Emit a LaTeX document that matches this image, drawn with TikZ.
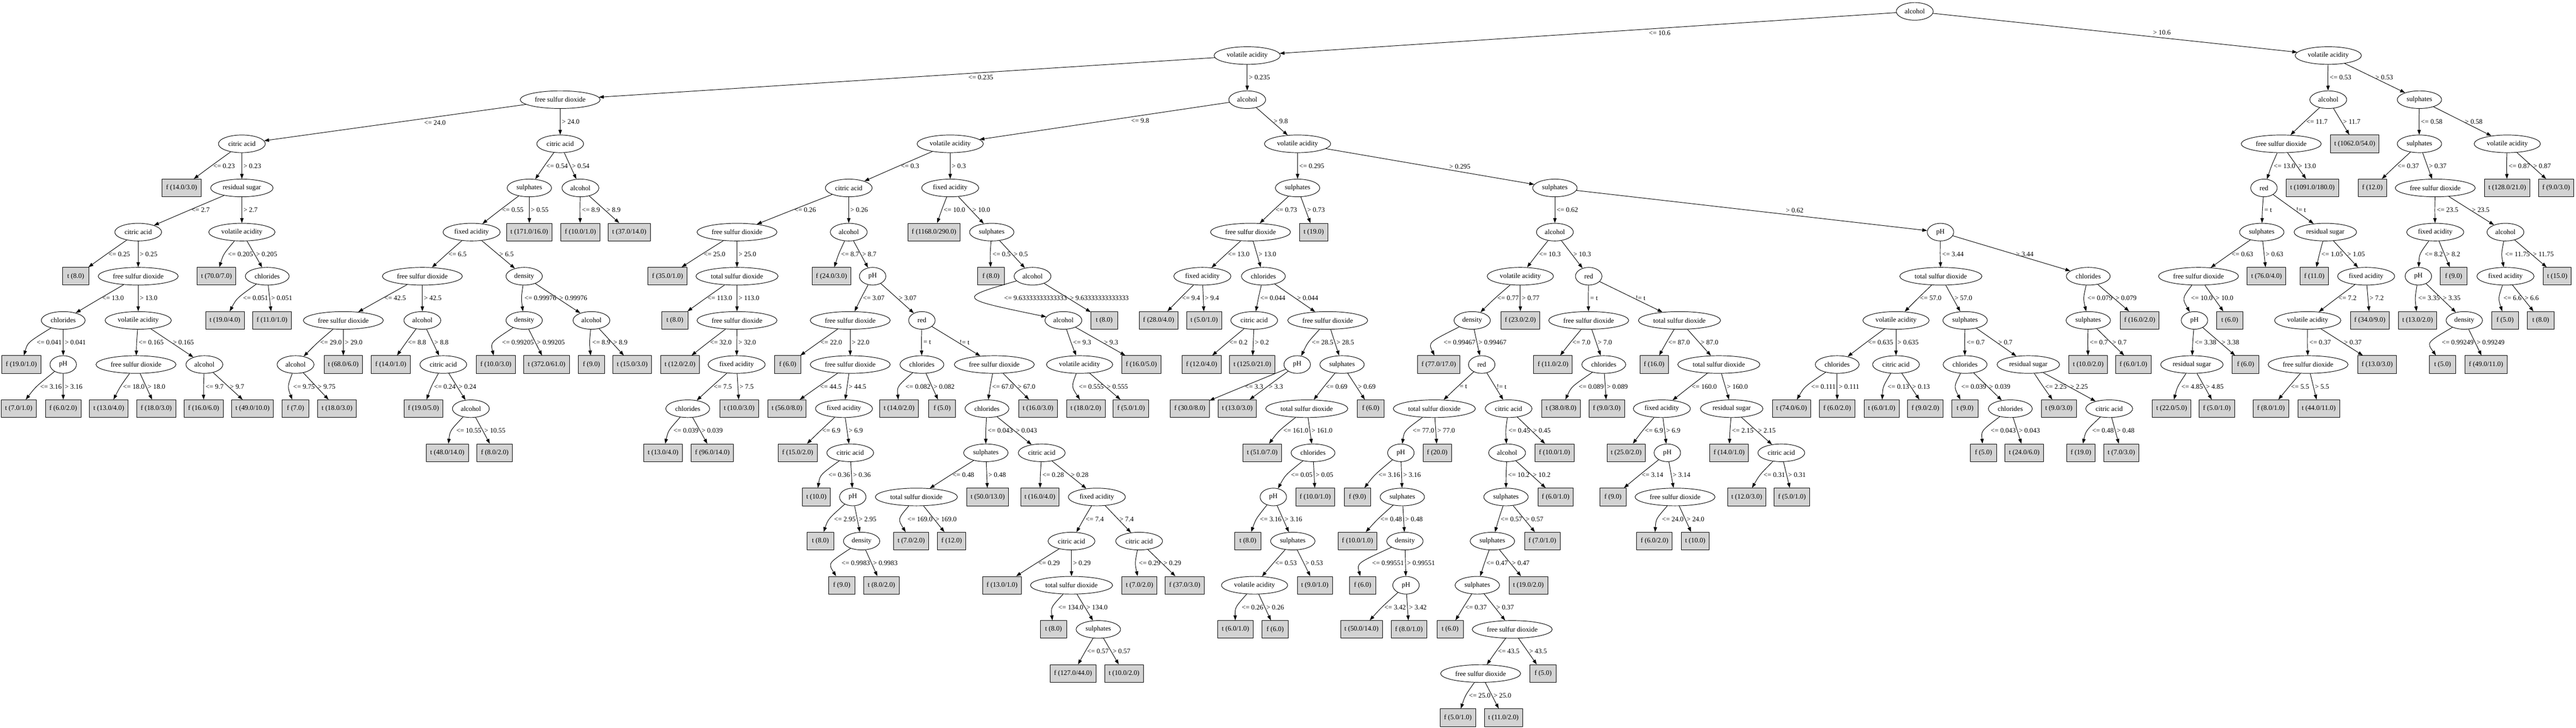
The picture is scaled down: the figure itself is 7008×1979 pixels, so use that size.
\documentclass[tikz,border=0pt]{standalone}
\usepackage{fontspec}
\setmainfont{Liberation Serif}
\usepackage{xcolor}
\definecolor{grisclaro}{RGB}{211, 211, 211}
\usepackage{tikz}
\usetikzlibrary{shapes.geometric, arrows.meta, calc}

\begin{document}
\begin{tikzpicture}[x=0.75pt, y=-0.75pt,
    testnode/.style={ellipse, draw, line width=1pt, inner xsep=6pt, inner ysep=2pt,
        minimum width=54pt, minimum height=36pt, font=\fontsize{14}{16}\selectfont},
    leafnode/.style={rectangle, draw, line width=1pt, fill=grisclaro, inner xsep=8pt, inner ysep=2pt,
        minimum width=54pt, minimum height=36pt, font=\fontsize{14}{16}\selectfont},
    arista/.style={line width=1pt, -{Triangle[length=10pt, width=7pt]}},
    etiqueta/.style={inner sep=1pt, font=\fontsize{14}{16}\selectfont}]
    \useasboundingbox (0,0) rectangle (7008,1979);
    % Nivel 0: raiz
    \node[testnode] (r) at (5209,31) {alcohol};
    % Nivel 1
    \node[testnode] (r0) at (3393,151) {volatile acidity};
    \node[testnode] (r1) at (6334,151) {volatile acidity};
    % Nivel 2
    \node[testnode] (r00) at (1524,271) {free sulfur dioxide};
    \node[testnode] (r01) at (3393,271) {alcohol};
    \node[testnode] (r10) at (6334,271) {alcohol};
    \node[testnode] (r11) at (6582,271) {sulphates};
    % Nivel 3
    \node[testnode] (r000) at (658,391) {citric acid};
    \node[testnode] (r001) at (1524,391) {citric acid};
    \node[testnode] (r010) at (2585,391) {volatile acidity};
    \node[testnode] (r011) at (3530,391) {volatile acidity};
    \node[testnode] (r100) at (6206,391) {free sulfur dioxide};
    \node[leafnode] (r101) at (6406,391) {t (1062.0/54.0)};
    \node[testnode] (r110) at (6582,391) {sulphates};
    \node[testnode] (r111) at (6821,391) {volatile acidity};
    % Nivel 4
    \node[leafnode] (r0000) at (494,511) {f (14.0/3.0)};
    \node[testnode] (r0001) at (658,511) {residual sugar};
    \node[testnode] (r0010) at (1440,511) {sulphates};
    \node[testnode] (r0011) at (1579,511) {alcohol};
    \node[testnode] (r0100) at (2309,511) {citric acid};
    \node[testnode] (r0101) at (2585,511) {fixed acidity};
    \node[testnode] (r0110) at (3530,511) {sulphates};
    \node[testnode] (r0111) at (4230,511) {sulphates};
    \node[testnode] (r1000) at (6159,511) {red};
    \node[leafnode] (r1001) at (6291,511) {t (1091.0/180.0)};
    \node[leafnode] (r1100) at (6454,511) {f (12.0)};
    \node[testnode] (r1101) at (6625,511) {free sulfur dioxide};
    \node[leafnode] (r1110) at (6821,511) {t (128.0/21.0)};
    \node[leafnode] (r1111) at (6954,511) {f (9.0/3.0)};
    % Nivel 5
    \node[testnode] (r00010) at (376,631) {citric acid};
    \node[testnode] (r00011) at (658,631) {volatile acidity};
    \node[testnode] (r00100) at (1283,631) {fixed acidity};
    \node[leafnode] (r00101) at (1440,631) {t (171.0/16.0)};
    \node[leafnode] (r00110) at (1579,631) {f (10.0/1.0)};
    \node[leafnode] (r00111) at (1712,631) {t (37.0/14.0)};
    \node[testnode] (r01000) at (2005,631) {free sulfur dioxide};
    \node[testnode] (r01001) at (2309,631) {alcohol};
    \node[leafnode] (r01010) at (2541,631) {f (1168.0/290.0)};
    \node[testnode] (r01011) at (2698,631) {sulphates};
    \node[testnode] (r01100) at (3402,631) {free sulfur dioxide};
    \node[leafnode] (r01101) at (3574,631) {t (19.0)};
    \node[testnode] (r01110) at (4230,631) {alcohol};
    \node[testnode] (r01111) at (5279,631) {pH};
    \node[testnode] (r10000) at (6153,631) {sulphates};
    \node[testnode] (r10001) at (6326,631) {residual sugar};
    \node[testnode] (r11010) at (6625,631) {fixed acidity};
    \node[testnode] (r11011) at (6816,631) {alcohol};
    % Nivel 6
    \node[leafnode] (r000100) at (206,751) {t (8.0)};
    \node[testnode] (r000101) at (376,751) {free sulfur dioxide};
    \node[leafnode] (r000110) at (589,751) {t (70.0/7.0)};
    \node[testnode] (r000111) at (727,751) {chlorides};
    \node[testnode] (r001000) at (1149,751) {free sulfur dioxide};
    \node[testnode] (r001001) at (1426,751) {density};
    \node[leafnode] (r010000) at (1816,751) {f (35.0/1.0)};
    \node[testnode] (r010001) at (2005,751) {total sulfur dioxide};
    \node[leafnode] (r010010) at (2262,751) {f (24.0/3.0)};
    \node[testnode] (r010011) at (2374,751) {pH};
    \node[leafnode] (r010110) at (2696,751) {f (8.0)};
    \node[testnode] (r010111) at (2809,751) {alcohol};
    \node[testnode] (r011000) at (3271,751) {fixed acidity};
    \node[testnode] (r011001) at (3437,751) {chlorides};
    \node[testnode] (r011100) at (4136,751) {volatile acidity};
    \node[testnode] (r011101) at (4322,751) {red};
    \node[testnode] (r011110) at (5280,751) {total sulfur dioxide};
    \node[testnode] (r011111) at (5681,751) {chlorides};
    \node[testnode] (r100000) at (5981,751) {free sulfur dioxide};
    \node[leafnode] (r100001) at (6166,751) {t (76.0/4.0)};
    \node[leafnode] (r100010) at (6296,751) {f (11.0)};
    \node[testnode] (r100011) at (6437,751) {fixed acidity};
    \node[testnode] (r110100) at (6579,751) {pH};
    \node[leafnode] (r110101) at (6675,751) {f (9.0)};
    \node[testnode] (r110110) at (6816,751) {fixed acidity};
    \node[leafnode] (r110111) at (6957,751) {t (15.0)};
    % Nivel 7
    \node[testnode] (r0001010) at (172,871) {chlorides};
    \node[testnode] (r0001011) at (376,871) {volatile acidity};
    \node[leafnode] (r0001110) at (612,871) {t (19.0/4.0)};
    \node[leafnode] (r0001111) at (740,871) {f (11.0/1.0)};
    \node[testnode] (r0010000) at (934,871) {free sulfur dioxide};
    \node[testnode] (r0010001) at (1149,871) {alcohol};
    \node[testnode] (r0010010) at (1426,871) {density};
    \node[testnode] (r0010011) at (1609,871) {alcohol};
    \node[leafnode] (r0100010) at (1836,871) {t (8.0)};
    \node[testnode] (r0100011) at (2005,871) {free sulfur dioxide};
    \node[testnode] (r0100110) at (2313,871) {free sulfur dioxide};
    \node[testnode] (r0100111) at (2508,871) {red};
    \node[testnode] (r0101110) at (2893,871) {alcohol};
    \node[leafnode] (r0101111) at (3004,871) {t (8.0)};
    \node[leafnode] (r0110000) at (3152,871) {f (28.0/4.0)};
    \node[leafnode] (r0110001) at (3276,871) {t (5.0/1.0)};
    \node[testnode] (r0110010) at (3412,871) {citric acid};
    \node[testnode] (r0110011) at (3612,871) {free sulfur dioxide};
    \node[testnode] (r0111000) at (4005,871) {density};
    \node[leafnode] (r0111001) at (4136,871) {f (23.0/2.0)};
    \node[testnode] (r0111010) at (4322,871) {free sulfur dioxide};
    \node[testnode] (r0111011) at (4569,871) {total sulfur dioxide};
    \node[testnode] (r0111100) at (5158,871) {volatile acidity};
    \node[testnode] (r0111101) at (5346,871) {sulphates};
    \node[testnode] (r0111110) at (5681,871) {sulphates};
    \node[leafnode] (r0111111) at (5821,871) {f (16.0/2.0)};
    \node[testnode] (r1000000) at (5970,871) {pH};
    \node[leafnode] (r1000001) at (6066,871) {t (6.0)};
    \node[testnode] (r1000110) at (6278,871) {volatile acidity};
    \node[leafnode] (r1000111) at (6447,871) {f (34.0/9.0)};
    \node[leafnode] (r1101000) at (6577,871) {t (13.0/2.0)};
    \node[testnode] (r1101001) at (6704,871) {density};
    \node[leafnode] (r1101100) at (6815,871) {f (5.0)};
    \node[leafnode] (r1101101) at (6912,871) {t (8.0)};
    % Nivel 8
    \node[leafnode] (r00010100) at (58,991) {f (19.0/1.0)};
    \node[testnode] (r00010101) at (172,991) {pH};
    \node[testnode] (r00010110) at (370,991) {free sulfur dioxide};
    \node[testnode] (r00010111) at (556,991) {alcohol};
    \node[testnode] (r00100000) at (804,991) {alcohol};
    \node[leafnode] (r00100001) at (934,991) {t (68.0/6.0)};
    \node[leafnode] (r00100010) at (1063,991) {f (14.0/1.0)};
    \node[testnode] (r00100011) at (1206,991) {citric acid};
    \node[leafnode] (r00100100) at (1349,991) {f (10.0/3.0)};
    \node[leafnode] (r00100101) at (1487,991) {t (372.0/61.0)};
    \node[leafnode] (r00100110) at (1609,991) {f (9.0)};
    \node[leafnode] (r00100111) at (1720,991) {t (15.0/3.0)};
    \node[leafnode] (r01000110) at (1850,991) {t (12.0/2.0)};
    \node[testnode] (r01000111) at (2004,991) {fixed acidity};
    \node[leafnode] (r01001100) at (2143,991) {f (6.0)};
    \node[testnode] (r01001101) at (2313,991) {free sulfur dioxide};
    \node[testnode] (r01001110) at (2508,991) {chlorides};
    \node[testnode] (r01001111) at (2705,991) {free sulfur dioxide};
    \node[testnode] (r01011100) at (2937,991) {volatile acidity};
    \node[leafnode] (r01011101) at (3105,991) {f (16.0/5.0)};
    \node[leafnode] (r01100100) at (3269,991) {f (12.0/4.0)};
    \node[leafnode] (r01100101) at (3407,991) {t (125.0/21.0)};
    \node[testnode] (r01100110) at (3529,991) {pH};
    \node[testnode] (r01100111) at (3651,991) {sulphates};
    \node[leafnode] (r01110000) at (3914,991) {f (77.0/17.0)};
    \node[testnode] (r01110001) at (4031,991) {red};
    \node[leafnode] (r01110100) at (4225,991) {f (11.0/2.0)};
    \node[testnode] (r01110101) at (4363,991) {chlorides};
    \node[leafnode] (r01110110) at (4500,991) {f (16.0)};
    \node[testnode] (r01110111) at (4676,991) {total sulfur dioxide};
    \node[testnode] (r01111000) at (4998,991) {chlorides};
    \node[testnode] (r01111001) at (5158,991) {citric acid};
    \node[testnode] (r01111010) at (5346,991) {chlorides};
    \node[testnode] (r01111011) at (5518,991) {residual sugar};
    \node[leafnode] (r01111100) at (5681,991) {t (10.0/2.0)};
    \node[leafnode] (r01111101) at (5804,991) {f (6.0/1.0)};
    \node[testnode] (r10000000) at (5963,991) {residual sugar};
    \node[leafnode] (r10000001) at (6109,991) {f (6.0)};
    \node[testnode] (r10001100) at (6279,991) {free sulfur dioxide};
    \node[leafnode] (r10001101) at (6467,991) {f (13.0/3.0)};
    \node[leafnode] (r11010010) at (6645,991) {t (5.0)};
    \node[leafnode] (r11010011) at (6763,991) {f (49.0/11.0)};
    % Nivel 9
    \node[leafnode] (r000101010) at (51,1111) {t (7.0/1.0)};
    \node[leafnode] (r000101011) at (172,1111) {f (6.0/2.0)};
    \node[leafnode] (r000101100) at (296,1111) {t (13.0/4.0)};
    \node[leafnode] (r000101101) at (425,1111) {f (18.0/3.0)};
    \node[leafnode] (r000101110) at (554,1111) {f (16.0/6.0)};
    \node[leafnode] (r000101111) at (687,1111) {t (49.0/10.0)};
    \node[leafnode] (r001000000) at (804,1111) {f (7.0)};
    \node[leafnode] (r001000001) at (917,1111) {t (18.0/3.0)};
    \node[leafnode] (r001000110) at (1152,1111) {f (19.0/5.0)};
    \node[testnode] (r001000111) at (1281,1111) {alcohol};
    \node[testnode] (r010001110) at (1871,1111) {chlorides};
    \node[leafnode] (r010001111) at (2011,1111) {t (10.0/3.0)};
    \node[leafnode] (r010011010) at (2141,1111) {t (56.0/8.0)};
    \node[testnode] (r010011011) at (2296,1111) {fixed acidity};
    \node[leafnode] (r010011100) at (2446,1111) {t (14.0/2.0)};
    \node[leafnode] (r010011101) at (2563,1111) {f (5.0)};
    \node[testnode] (r010011110) at (2685,1111) {chlorides};
    \node[leafnode] (r010011111) at (2824,1111) {t (16.0/3.0)};
    \node[leafnode] (r010111000) at (2954,1111) {t (18.0/2.0)};
    \node[leafnode] (r010111001) at (3077,1111) {f (5.0/1.0)};
    \node[leafnode] (r011001100) at (3237,1111) {f (30.0/8.0)};
    \node[leafnode] (r011001101) at (3366,1111) {t (13.0/3.0)};
    \node[testnode] (r011001110) at (3555,1111) {total sulfur dioxide};
    \node[leafnode] (r011001111) at (3729,1111) {f (6.0)};
    \node[testnode] (r011100010) at (3902,1111) {total sulfur dioxide};
    \node[testnode] (r011100011) at (4104,1111) {citric acid};
    \node[leafnode] (r011101010) at (4247,1111) {t (38.0/8.0)};
    \node[leafnode] (r011101011) at (4371,1111) {f (9.0/3.0)};
    \node[testnode] (r011101110) at (4521,1111) {fixed acidity};
    \node[testnode] (r011101111) at (4711,1111) {residual sugar};
    \node[leafnode] (r011110000) at (4874,1111) {t (74.0/6.0)};
    \node[leafnode] (r011110001) at (4998,1111) {f (6.0/2.0)};
    \node[leafnode] (r011110010) at (5119,1111) {t (6.0/1.0)};
    \node[leafnode] (r011110011) at (5238,1111) {f (9.0/2.0)};
    \node[leafnode] (r011110100) at (5346,1111) {t (9.0)};
    \node[testnode] (r011110101) at (5469,1111) {chlorides};
    \node[leafnode] (r011110110) at (5601,1111) {t (9.0/3.0)};
    \node[testnode] (r011110111) at (5738,1111) {citric acid};
    \node[leafnode] (r100000000) at (5908,1111) {t (22.0/5.0)};
    \node[leafnode] (r100000001) at (6031,1111) {f (5.0/1.0)};
    \node[leafnode] (r100011000) at (6178,1111) {f (8.0/1.0)};
    \node[leafnode] (r100011001) at (6308,1111) {t (44.0/11.0)};
    % Nivel 10
    \node[leafnode] (r0010001110) at (1217,1231) {t (48.0/14.0)};
    \node[leafnode] (r0010001111) at (1346,1231) {f (8.0/2.0)};
    \node[leafnode] (r0100011100) at (1804,1231) {t (13.0/4.0)};
    \node[leafnode] (r0100011101) at (1938,1231) {f (96.0/14.0)};
    \node[leafnode] (r0100110110) at (2170,1231) {f (15.0/2.0)};
    \node[testnode] (r0100110111) at (2313,1231) {citric acid};
    \node[testnode] (r0100111100) at (2682,1231) {sulphates};
    \node[testnode] (r0100111101) at (2834,1231) {citric acid};
    \node[leafnode] (r0110011100) at (3434,1231) {t (51.0/7.0)};
    \node[testnode] (r0110011101) at (3572,1231) {chlorides};
    \node[testnode] (r0111000100) at (3811,1231) {pH};
    \node[leafnode] (r0111000101) at (3910,1231) {f (20.0)};
    \node[testnode] (r0111000110) at (4100,1231) {alcohol};
    \node[leafnode] (r0111000111) at (4229,1231) {f (10.0/1.0)};
    \node[leafnode] (r0111011100) at (4424,1231) {t (25.0/2.0)};
    \node[testnode] (r0111011101) at (4536,1231) {pH};
    \node[leafnode] (r0111011110) at (4704,1231) {f (14.0/1.0)};
    \node[testnode] (r0111011111) at (4846,1231) {citric acid};
    \node[leafnode] (r0111101010) at (5396,1231) {f (5.0)};
    \node[leafnode] (r0111101011) at (5507,1231) {t (24.0/6.0)};
    \node[leafnode] (r0111101110) at (5661,1231) {f (19.0)};
    \node[leafnode] (r0111101111) at (5771,1231) {t (7.0/3.0)};
    % Nivel 11
    \node[leafnode] (r01001101110) at (2221,1351) {t (10.0)};
    \node[testnode] (r01001101111) at (2320,1351) {pH};
    \node[testnode] (r01001111000) at (2493,1351) {total sulfur dioxide};
    \node[leafnode] (r01001111001) at (2687,1351) {t (50.0/13.0)};
    \node[leafnode] (r01001111010) at (2829,1351) {t (16.0/4.0)};
    \node[testnode] (r01001111011) at (2984,1351) {fixed acidity};
    \node[testnode] (r01100111010) at (3464,1351) {pH};
    \node[leafnode] (r01100111011) at (3578,1351) {f (10.0/1.0)};
    \node[leafnode] (r01110001000) at (3693,1351) {f (9.0)};
    \node[testnode] (r01110001001) at (3815,1351) {sulphates};
    \node[testnode] (r01110001100) at (4097,1351) {sulphates};
    \node[leafnode] (r01110001101) at (4232,1351) {f (6.0/1.0)};
    \node[leafnode] (r01110111010) at (4388,1351) {f (9.0)};
    \node[testnode] (r01110111011) at (4557,1351) {free sulfur dioxide};
    \node[leafnode] (r01110111110) at (4752,1351) {t (12.0/3.0)};
    \node[leafnode] (r01110111111) at (4875,1351) {f (5.0/1.0)};
    % Nivel 12
    \node[leafnode] (r010011011110) at (2232,1471) {t (8.0)};
    \node[testnode] (r010011011111) at (2344,1471) {density};
    \node[leafnode] (r010011110000) at (2479,1471) {t (7.0/2.0)};
    \node[leafnode] (r010011110001) at (2589,1471) {f (12.0)};
    \node[testnode] (r010011110110) at (2915,1471) {citric acid};
    \node[testnode] (r010011110111) at (3099,1471) {citric acid};
    \node[leafnode] (r011001110100) at (3395,1471) {t (8.0)};
    \node[testnode] (r011001110101) at (3517,1471) {sulphates};
    \node[leafnode] (r011100010010) at (3693,1471) {f (10.0/1.0)};
    \node[testnode] (r011100010011) at (3822,1471) {density};
    \node[testnode] (r011100011000) at (4060,1471) {sulphates};
    \node[leafnode] (r011100011001) at (4196,1471) {f (7.0/1.0)};
    \node[leafnode] (r011101110110) at (4501,1471) {f (6.0/2.0)};
    \node[leafnode] (r011101110111) at (4612,1471) {t (10.0)};
    % Nivel 13
    \node[leafnode] (r0100110111110) at (2290,1591) {f (9.0)};
    \node[leafnode] (r0100110111111) at (2398,1591) {t (8.0/2.0)};
    \node[leafnode] (r0100111101100) at (2726,1591) {f (13.0/1.0)};
    \node[testnode] (r0100111101101) at (2915,1591) {total sulfur dioxide};
    \node[leafnode] (r0100111101110) at (3100,1591) {t (7.0/2.0)};
    \node[leafnode] (r0100111101111) at (3223,1591) {f (37.0/3.0)};
    \node[testnode] (r0110011101010) at (3413,1591) {volatile acidity};
    \node[leafnode] (r0110011101011) at (3577,1591) {t (9.0/1.0)};
    \node[leafnode] (r0111000100110) at (3707,1591) {f (6.0)};
    \node[testnode] (r0111000100111) at (3825,1591) {pH};
    \node[testnode] (r0111000110000) at (4019,1591) {sulphates};
    \node[leafnode] (r0111000110001) at (4158,1591) {t (19.0/2.0)};
    % Nivel 14
    \node[leafnode] (r01001111011010) at (2866,1711) {t (8.0)};
    \node[testnode] (r01001111011011) at (2988,1711) {sulphates};
    \node[leafnode] (r01100111010100) at (3361,1711) {t (6.0/1.0)};
    \node[leafnode] (r01100111010101) at (3469,1711) {f (6.0)};
    \node[leafnode] (r01110001001110) at (3704,1711) {t (50.0/14.0)};
    \node[leafnode] (r01110001001111) at (3833,1711) {f (8.0/1.0)};
    \node[leafnode] (r01110001100000) at (3945,1711) {t (6.0)};
    \node[testnode] (r01110001100001) at (4114,1711) {free sulfur dioxide};
    % Nivel 15
    \node[leafnode] (r010011110110110) at (2919,1831) {f (127.0/44.0)};
    \node[leafnode] (r010011110110111) at (3058,1831) {t (10.0/2.0)};
    \node[testnode] (r011100011000010) at (4028,1831) {free sulfur dioxide};
    \node[leafnode] (r011100011000011) at (4198,1831) {f (5.0)};
    % Nivel 16
    \node[leafnode] (r0111000110000100) at (3966,1951) {f (5.0/1.0)};
    \node[leafnode] (r0111000110000101) at (4090,1951) {t (11.0/2.0)};

    % Aristas largas (etiqueta desplazada)
    \foreach \n/\lo/\hi/\sl/\sh in {r/<= 10.6/> 10.6/123/76, r0/<= 0.235/> 0.235/124/2,
        r00/<= 24.0/> 24.0/58/2, r01/<= 9.8/> 9.8/53/2, r011/<= 0.295/> 0.295/2/38,
        r0111/<= 0.62/> 0.62/2/68} {
        \draw[arista] (\n) -- node[etiqueta, midway, anchor=west, xshift=\sl pt] {\lo} (\n0);
        \draw[arista] (\n) -- node[etiqueta, midway, anchor=west, xshift=\sh pt] {\hi} (\n1);
    }
    % Resto de aristas: la etiqueta izquierda no pasa la arista derecha
    \foreach \n/\lo/\hi in {r1/<= 0.53/> 0.53, r10/<= 11.7/> 11.7, r11/<= 0.58/> 0.58,
        r000/<= 0.23/> 0.23, r001/<= 0.54/> 0.54, r010/<= 0.3/> 0.3, r100/<= 13.0/> 13.0,
        r110/<= 0.37/> 0.37, r111/<= 0.87/> 0.87,
        r0001/<= 2.7/> 2.7, r0010/<= 0.55/> 0.55, r0011/<= 8.9/> 8.9, r0100/<= 0.26/> 0.26,
        r0101/<= 10.0/> 10.0, r0110/<= 0.73/> 0.73, r1000/= t/!= t, r1101/<= 23.5/> 23.5,
        r00010/<= 0.25/> 0.25, r00011/<= 0.205/> 0.205, r00100/<= 6.5/> 6.5,
        r01000/<= 25.0/> 25.0, r01001/<= 8.7/> 8.7, r01011/<= 0.5/> 0.5,
        r01100/<= 13.0/> 13.0, r01110/<= 10.3/> 10.3, r01111/<= 3.44/> 3.44,
        r10000/<= 0.63/> 0.63, r10001/<= 1.05/> 1.05, r11010/<= 8.2/> 8.2,
        r11011/<= 11.75/> 11.75,
        r000101/<= 13.0/> 13.0, r000111/<= 0.051/> 0.051, r001000/<= 42.5/> 42.5,
        r001001/<= 0.99976/> 0.99976, r010001/<= 113.0/> 113.0, r010011/<= 3.07/> 3.07,
        r010111/<= 9.63333333333333/> 9.63333333333333, r011000/<= 9.4/> 9.4,
        r011001/<= 0.044/> 0.044, r011100/<= 0.77/> 0.77, r011101/= t/!= t,
        r011110/<= 57.0/> 57.0, r011111/<= 0.079/> 0.079, r100000/<= 10.0/> 10.0,
        r100011/<= 7.2/> 7.2, r110100/<= 3.35/> 3.35, r110110/<= 6.6/> 6.6,
        r0001010/<= 0.041/> 0.041, r0001011/<= 0.165/> 0.165, r0010000/<= 29.0/> 29.0,
        r0010001/<= 8.8/> 8.8, r0010010/<= 0.99205/> 0.99205, r0010011/<= 8.9/> 8.9,
        r0100011/<= 32.0/> 32.0, r0100110/<= 22.0/> 22.0, r0100111/= t/!= t,
        r0101110/<= 9.3/> 9.3, r0110010/<= 0.2/> 0.2, r0110011/<= 28.5/> 28.5,
        r0111000/<= 0.99467/> 0.99467, r0111010/<= 7.0/> 7.0, r0111011/<= 87.0/> 87.0,
        r0111100/<= 0.635/> 0.635, r0111101/<= 0.7/> 0.7, r0111110/<= 0.7/> 0.7,
        r1000000/<= 3.38/> 3.38, r1000110/<= 0.37/> 0.37, r1101001/<= 0.99249/> 0.99249,
        r00010101/<= 3.16/> 3.16, r00010110/<= 18.0/> 18.0, r00010111/<= 9.7/> 9.7,
        r00100000/<= 9.75/> 9.75, r00100011/<= 0.24/> 0.24, r01000111/<= 7.5/> 7.5,
        r01001101/<= 44.5/> 44.5, r01001110/<= 0.082/> 0.082, r01001111/<= 67.0/> 67.0,
        r01011100/<= 0.555/> 0.555, r01100110/<= 3.3/> 3.3, r01100111/<= 0.69/> 0.69,
        r01110001/= t/!= t, r01110101/<= 0.089/> 0.089, r01110111/<= 160.0/> 160.0,
        r01111000/<= 0.111/> 0.111, r01111001/<= 0.13/> 0.13, r01111010/<= 0.039/> 0.039,
        r01111011/<= 2.25/> 2.25, r10000000/<= 4.85/> 4.85, r10001100/<= 5.5/> 5.5,
        r001000111/<= 10.55/> 10.55, r010001110/<= 0.039/> 0.039, r010011011/<= 6.9/> 6.9,
        r010011110/<= 0.043/> 0.043, r011001110/<= 161.0/> 161.0, r011100010/<= 77.0/> 77.0,
        r011100011/<= 0.45/> 0.45, r011101110/<= 6.9/> 6.9, r011101111/<= 2.15/> 2.15,
        r011110101/<= 0.043/> 0.043, r011110111/<= 0.48/> 0.48,
        r0100110111/<= 0.36/> 0.36, r0100111100/<= 0.48/> 0.48, r0100111101/<= 0.28/> 0.28,
        r0110011101/<= 0.05/> 0.05, r0111000100/<= 3.16/> 3.16, r0111000110/<= 10.2/> 10.2,
        r0111011101/<= 3.14/> 3.14, r0111011111/<= 0.31/> 0.31,
        r01001101111/<= 2.95/> 2.95, r01001111000/<= 169.0/> 169.0, r01001111011/<= 7.4/> 7.4,
        r01100111010/<= 3.16/> 3.16, r01110001001/<= 0.48/> 0.48, r01110001100/<= 0.57/> 0.57,
        r01110111011/<= 24.0/> 24.0,
        r010011011111/<= 0.9983/> 0.9983, r010011110110/<= 0.29/> 0.29,
        r010011110111/<= 0.29/> 0.29, r011001110101/<= 0.53/> 0.53,
        r011100010011/<= 0.99551/> 0.99551, r011100011000/<= 0.47/> 0.47,
        r0100111101101/<= 134.0/> 134.0, r0110011101010/<= 0.26/> 0.26,
        r0111000100111/<= 3.42/> 3.42, r0111000110000/<= 0.37/> 0.37,
        r01001111011011/<= 0.57/> 0.57, r01110001100001/<= 43.5/> 43.5,
        r011100011000010/<= 25.0/> 25.0} {
        \coordinate (lm) at ($(\n)!0.5!(\n0)$);
        \coordinate (rm) at ($(\n)!0.5!(\n1)$);
        \node[etiqueta, anchor=west] at ([xshift=2pt]rm) {\hi};
        \path node[etiqueta, anchor=west] (ef) at ([xshift=2pt]lm) {\phantom{\lo}};
        \path let \p1=(ef.east), \p2=(rm) in
            node[etiqueta, anchor=east] (el) at ({min(\x1,\x2-2pt)}, \y2) {\lo};
        \draw[arista] (\n) .. controls ($2*(el.west) - 0.5*(\n) - 0.5*(\n0) + (-5pt,0)$) .. (\n0);
        \draw[arista] (\n) -- (\n1);
    }
\end{tikzpicture}
\end{document}
